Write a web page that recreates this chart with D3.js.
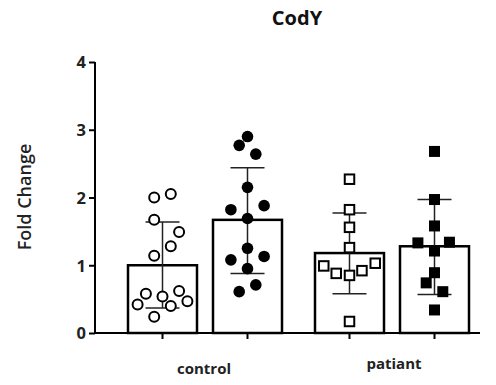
<!DOCTYPE html>
<html><head><meta charset="utf-8">
<script src="https://cdn.jsdelivr.net/npm/d3@7"></script>
<style>body{margin:0;background:#fff}svg{display:block}</style>
</head><body><svg id="c" width="496" height="385"></svg>
<script>
const title = "CodY";
const yLabel = "Fold Change";
const groupLabels = ["control", "patiant"];
const yTicks = [0, 1, 2, 3, 4];
// bars: mean and error (SD) bounds
const barNames = ["control-1", "control-2", "patient-1", "patient-2"];
const barMeans = [1.0, 1.67, 1.18, 1.28];
const errLow = [0.37, 0.88, 0.58, 0.57];
const errHigh = [1.64, 2.44, 1.77, 1.97];
const markerTypes = ["openCircle", "filledCircle", "openSquare", "filledSquare"];
// individual points (value, swarm column)
const pts1 = [2.00, 2.05, 1.67, 1.49, 1.28, 1.14, 0.58, 0.62, 0.54, 0.42, 0.40, 0.47, 0.24];
const col1 = [-1, 1, -1, 2, 1, -1, -2, 2, 0, -3, 1, 3, -1];
const pts2 = [2.90, 2.77, 2.64, 2.15, 1.82, 1.88, 1.69, 1.25, 1.08, 1.13, 0.95, 0.61, 0.71];
const col2 = [0, -1, 1, 0, -2, 2, 0, 0, -2, 2, 0, -1, 1];
const pts3 = [2.27, 1.82, 1.56, 1.26, 0.99, 0.88, 0.85, 0.92, 1.03, 0.17];
const col3 = [0, 0, 0, 0, -3.1, -1.6, 0, 1.5, 3.1, 0];
const pts4 = [2.68, 1.97, 1.58, 1.33, 1.34, 1.21, 0.89, 0.74, 0.61, 0.34];
const col4 = [0, 0, 0, -2, 1.8, 0, 0, -1, 1, 0];
const allPts = [pts1, pts2, pts3, pts4];
const allCols = [col1, col2, col3, col4];
const barSlots = [0, 1, 2.2, 3.2];
const groupSlots = [0.5, 2.7];

const svg = d3.select("#c");
const y = d3.scaleLinear().domain([0, 4]).range([333, 62]);
const x = d3.scaleLinear().domain([0, 1]).range([162.5, 247.5]);
const axisLeft = 95, axisRight = 480;
const barW = 69;
const colStep = 8.3;
const FONT = "Open Sans, sans-serif";

// bars
svg.selectAll("rect.bar").data(barMeans).join("rect")
  .attr("x", (d, i) => x(barSlots[i]) - barW / 2)
  .attr("y", d => y(d))
  .attr("width", barW)
  .attr("height", d => y(0) - y(d))
  .attr("fill", "#fff").attr("stroke", "#000").attr("stroke-width", 2.5);

// error bars
const eb = svg.append("g").attr("stroke", "#222").attr("stroke-width", 1.5);
barMeans.forEach((m, i) => {
  const cx = x(barSlots[i]);
  eb.append("line").attr("x1", cx).attr("x2", cx).attr("y1", y(errLow[i])).attr("y2", y(errHigh[i]));
  [errLow[i], errHigh[i]].forEach(v => {
    eb.append("line").attr("x1", cx - 17).attr("x2", cx + 17).attr("y1", y(v)).attr("y2", y(v));
  });
});

// points
allPts.forEach((arr, gi) => {
  const g = svg.append("g");
  const t = markerTypes[gi];
  arr.forEach((v, j) => {
    const cx = x(barSlots[gi]) + allCols[gi][j] * colStep;
    const cy = y(v);
    if (t.endsWith("Circle")) {
      g.append("circle").attr("cx", cx).attr("cy", cy)
        .attr("r", t === "openCircle" ? 5 : 5.8)
        .attr("fill", t === "openCircle" ? "#fff" : "#000")
        .attr("stroke", "#000").attr("stroke-width", t === "openCircle" ? 2 : 0);
    } else {
      const s = t === "openSquare" ? 9.5 : 11;
      g.append("rect").attr("x", cx - s / 2).attr("y", cy - s / 2).attr("width", s).attr("height", s)
        .attr("fill", t === "openSquare" ? "#fff" : "#000")
        .attr("stroke", "#000").attr("stroke-width", t === "openSquare" ? 2 : 0);
    }
  });
});

// y axis
const ya = svg.append("g").attr("transform", `translate(${axisLeft},0)`)
  .call(d3.axisLeft(y).tickValues(yTicks).tickFormat(d3.format("d")).tickSize(6).tickSizeOuter(0));
ya.select(".domain").attr("stroke-width", 2).attr("d", `M0,${y(4)}V${y(0)}`);
ya.selectAll(".tick line").attr("stroke-width", 2);
ya.selectAll(".tick text").attr("font-family", FONT).attr("font-weight", "bold")
  .attr("font-size", 16.5).attr("fill", "#222").attr("x", -9).attr("dy", "0.36em");

// x axis
const xa = svg.append("g");
xa.append("line").attr("x1", axisLeft - 1).attr("x2", axisRight).attr("y1", y(0)).attr("y2", y(0))
  .attr("stroke", "#000").attr("stroke-width", 2);
barSlots.forEach(s => {
  xa.append("line").attr("x1", x(s)).attr("x2", x(s)).attr("y1", y(0)).attr("y2", y(0) + 6)
    .attr("stroke", "#000").attr("stroke-width", 2);
});
const labelY = [374, 369];
groupLabels.forEach((l, i) => {
  svg.append("text").attr("x", x(groupSlots[i]) + (i === 0 ? -1 : 2)).attr("y", labelY[i])
    .attr("text-anchor", "middle").attr("font-family", FONT).attr("font-weight", "bold")
    .attr("font-size", 15).attr("fill", "#222").text(l);
});

// title
svg.append("text").attr("x", 297).attr("y", 25).attr("text-anchor", "middle")
  .attr("font-family", FONT).attr("font-weight", "bold").attr("font-size", 20)
  .attr("fill", "#111").text(title);

// y label
svg.append("text").attr("transform", `translate(31,197) rotate(-90)`).attr("text-anchor", "middle")
  .attr("font-family", FONT).attr("font-weight", 600).attr("font-size", 18)
  .attr("fill", "#222").text(yLabel);
</script></body></html>
